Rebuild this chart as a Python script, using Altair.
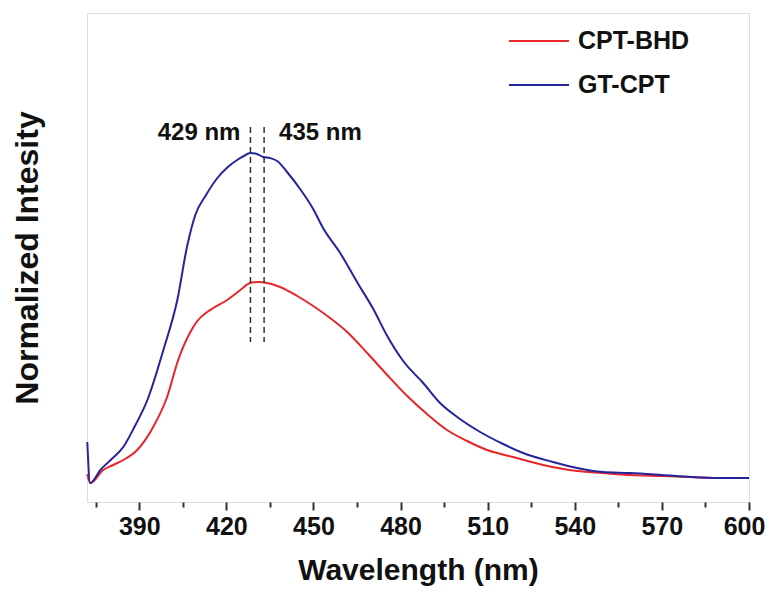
import altair as alt
import pandas as pd

# ---- data ----
series_names = ["CPT-BHD", "GT-CPT"]
series_colors = ["#e8262a", "#24249c"]

red_x = [372.1, 373.1, 377.6, 381.0, 384.5, 389.3, 394.8, 399.6, 403.4, 407.6, 410.0,
         413.4, 415.5, 420.3, 424.8, 428.2, 431.0, 434.1, 438.5, 444.4, 449.9, 455.7,
         461.6, 468.5, 475.4, 482.3, 489.1, 496.0, 502.9, 509.8, 518.7, 529.1, 540.8,
         549.7, 559.0, 570.0, 580.0, 590.0, 600.0]
red_y = [28, 19, 32, 37, 42, 52, 75, 105, 142, 170, 181,
         190, 194, 202, 212, 219, 220, 219, 215, 206, 196, 184,
         170, 149, 127, 106, 88, 72, 61, 52, 45, 37, 31,
         29, 27, 26, 25, 24, 24]

blue_x = [372.1, 373.1, 376.6, 380.5, 384.5, 388.5, 392.8, 398.3, 403.1, 406.5, 409.3,
          413.0, 416.9, 420.5, 423.7, 426.0, 428.2, 430.5, 432.7, 435.0, 437.5, 440.9,
          445.4, 449.9, 453.3, 459.2, 465.0, 470.6, 475.4, 480.9, 487.8, 493.6, 499.5,
          507.4, 515.3, 522.2, 532.5, 540.8, 549.7, 559.0, 570.0, 580.0, 590.0, 600.0]
blue_y = [60, 19, 32, 43, 55, 76, 102, 152, 202, 256, 287,
          307, 324, 335, 342, 346, 349, 348, 345, 344, 341, 330,
          313, 293, 274, 249, 220, 193, 166, 141, 119, 99, 85,
          70, 58, 49, 40, 34, 30, 29, 27, 25, 24, 24]

peak_pos = [428.3, 433.0]
peak_labels = ["429 nm", "435 nm"]
dash_top = 375
dash_bottom = 160
label_level = 369

x_ticks = [375, 390, 405, 420, 435, 450, 465, 480, 495, 510, 525, 540, 555, 570, 585, 600]

# ---- tables ----
df = pd.concat([
    pd.DataFrame({"wl": red_x, "v": red_y, "series": series_names[0]}),
    pd.DataFrame({"wl": blue_x, "v": blue_y, "series": series_names[1]}),
], ignore_index=True)
df["order"] = df.index

peaks = pd.DataFrame({"wl": peak_pos, "label": peak_labels,
                      "top": [dash_top] * 2, "bottom": [dash_bottom] * 2,
                      "ly": [label_level] * 2})

FONT = "Liberation Sans"

xscale = alt.Scale(domain=[372, 600], nice=False, zero=False)
yscale = alt.Scale(domain=[0, 489], nice=False, zero=False)

lines = alt.Chart(df).mark_line(strokeWidth=2, interpolate="monotone").encode(
    x=alt.X("wl:Q", scale=xscale,
            axis=alt.Axis(values=x_ticks, title="Wavelength (nm)",
                          labelExpr="datum.value % 30 === 0 ? datum.label : ''",
                          tickSize={"condition": {"test": "datum.value % 30 === 0", "value": 8}, "value": 5},
                          labelOffset={"condition": {"test": "datum.value === 600", "value": -5}, "value": 0},
                          tickWidth=2, tickColor="#333", domain=False, grid=False,
                          labelFont=FONT, labelFontSize=25, labelFontWeight="bold",
                          labelColor="#111", labelPadding=4, labelFlush=False,
                          titleFont=FONT, titleFontSize=30, titleFontWeight="bold",
                          titleColor="#111", titlePadding=16)),
    y=alt.Y("v:Q", scale=yscale,
            axis=alt.Axis(title="Normalized Intesity", labels=False, ticks=False,
                          domain=False, grid=False,
                          titleFont=FONT, titleFontSize=32, titleFontWeight="bold",
                          titleColor="#111", titlePadding=43)),
    color=alt.Color("series:N",
                    scale=alt.Scale(domain=series_names, range=series_colors),
                    legend=alt.Legend(title=None, orient="none", legendX=421, legendY=-3,
                                      symbolType="stroke", symbolSize=3600,
                                      symbolStrokeWidth=2, labelFont=FONT,
                                      labelFontSize=25, labelFontWeight="bold",
                                      labelColor="#111", rowPadding=-3, labelOffset=8)),
    order="order:Q",
)

dashes = alt.Chart(peaks).mark_rule(color="#333", strokeWidth=1.5, strokeDash=[6, 4]).encode(
    x=alt.X("wl:Q", scale=xscale),
    y=alt.Y("top:Q", scale=yscale),
    y2="bottom:Q",
)

text_left = alt.Chart(peaks.iloc[[0]]).mark_text(
    align="right", baseline="middle", dx=-10, font=FONT, fontSize=24,
    fontWeight="bold", color="#111").encode(
    x=alt.X("wl:Q", scale=xscale), y=alt.Y("ly:Q", scale=yscale), text="label:N")

text_right = alt.Chart(peaks.iloc[[1]]).mark_text(
    align="left", baseline="middle", dx=15, font=FONT, fontSize=24,
    fontWeight="bold", color="#111").encode(
    x=alt.X("wl:Q", scale=xscale), y=alt.Y("ly:Q", scale=yscale), text="label:N")

chart = alt.layer(lines, dashes, text_left, text_right).properties(
    width=662, height=489,
    autosize=alt.AutoSizeParams(type="none"),
    padding={"left": 79, "top": 5, "right": 17, "bottom": 86},
).configure_view(stroke="#333", strokeWidth=2).configure(background="white")

chart.save("out.html", embed_options={"renderer": "svg", "actions": False})
